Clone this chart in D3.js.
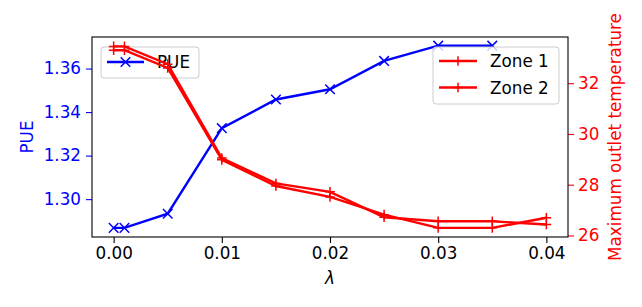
<!DOCTYPE html>
<html>
<head>
<meta charset="utf-8">
<script src="https://cdn.jsdelivr.net/npm/d3@7"></script>
<style>
  body { margin: 0; background: #fff; }
  svg { font-family: "DejaVu Sans", sans-serif; }
</style>
</head>
<body>
<svg id="chart" width="642" height="307"></svg>
<script>
// data
const lambdas = [0, 0.001, 0.005, 0.01, 0.015, 0.02, 0.025, 0.03, 0.035, 0.04];
const pue = [1.2868, 1.2868, 1.2933, 1.3326, 1.3458, 1.3505, 1.3635, 1.3705, 1.3705];
const zone1 = [33.45, 33.45, 32.75, 29.05, 28.05, 27.72, 26.72, 26.56, 26.56, 26.43];
const zone2 = [33.30, 33.30, 32.60, 28.98, 27.95, 27.52, 26.82, 26.30, 26.30, 26.70];
const xTicks = [0, 0.01, 0.02, 0.03, 0.04];
const pueTicks = [1.30, 1.32, 1.34, 1.36];
const tempTicks = [26, 28, 30, 32];

const margin = {top: 37, right: 74, bottom: 70, left: 92};
const width = 642, height = 307;
const svg = d3.select("#chart");

const x = d3.scaleLinear().domain([-0.002, 0.042]).range([margin.left, width - margin.right]);
const yL = d3.scaleLinear().domain([1.2826, 1.3745]).range([height - margin.bottom, margin.top]);
const yR = d3.scaleLinear().domain([25.94, 33.82]).range([height - margin.bottom, margin.top]);

const fs = "16.8px";

// axes
const gx = svg.append("g")
  .attr("transform", `translate(0,${height - margin.bottom})`)
  .call(d3.axisBottom(x).tickValues(xTicks).tickFormat(d3.format(".2f")).tickSize(6).tickPadding(4).tickSizeOuter(0));
gx.select(".domain").remove();
gx.selectAll("line").attr("stroke-width", 1.1);
gx.selectAll("text").attr("font-size", fs).attr("fill", "#000").attr("font-family", "DejaVu Sans");

const gl = svg.append("g")
  .attr("transform", `translate(${margin.left},0)`)
  .call(d3.axisLeft(yL).tickValues(pueTicks).tickFormat(d3.format(".2f")).tickSize(6).tickPadding(5));
gl.select(".domain").remove();
gl.selectAll("line").attr("stroke", "blue").attr("stroke-width", 1.1);
gl.selectAll("text").attr("font-size", fs).attr("fill", "blue").attr("font-family", "DejaVu Sans");

const gr = svg.append("g")
  .attr("transform", `translate(${width - margin.right},0)`)
  .call(d3.axisRight(yR).tickValues(tempTicks).tickSize(6).tickPadding(4));
gr.select(".domain").remove();
gr.selectAll("line").attr("stroke", "red").attr("stroke-width", 1.1);
gr.selectAll("text").attr("font-size", fs).attr("fill", "red").attr("font-family", "DejaVu Sans");

// axis titles
svg.append("text").attr("x", (margin.left + width - margin.right) / 2).attr("y", 284)
  .attr("text-anchor", "middle").attr("font-size", fs).attr("font-style", "italic").text("λ");
svg.append("text").attr("transform", `translate(33,137) rotate(-90)`)
  .attr("text-anchor", "middle").attr("font-size", fs).attr("fill", "blue").text("PUE");
svg.append("text").attr("transform", `translate(621,137) rotate(-90)`)
  .attr("text-anchor", "middle").attr("font-size", fs).attr("fill", "red").text("Maximum outlet temperature");

// marker helpers
const ms = 4.8;
function xMark(g, cx, cy, color) {
  g.append("path").attr("d", `M${cx - ms},${cy - ms}L${cx + ms},${cy + ms}M${cx - ms},${cy + ms}L${cx + ms},${cy - ms}`)
    .attr("stroke", color).attr("stroke-width", 1.5).attr("fill", "none");
}
function plusMark(g, cx, cy, color) {
  g.append("path").attr("d", `M${cx - ms},${cy}L${cx + ms},${cy}M${cx},${cy - ms}L${cx},${cy + ms}`)
    .attr("stroke", color).attr("stroke-width", 1.5).attr("fill", "none");
}
function legendBox(g, x0, y0, w, h) {
  g.append("rect").attr("x", x0).attr("y", y0).attr("width", w).attr("height", h)
    .attr("rx", 3).attr("fill", "white").attr("fill-opacity", 0.8)
    .attr("stroke", "#cccccc").attr("stroke-width", 1);
}

// PUE axis (drawn first)
const ax1 = svg.append("g");
const pueLine = d3.line().x((d, i) => x(lambdas[i])).y(d => yL(d));
ax1.append("path").datum(pue).attr("d", pueLine)
  .attr("fill", "none").attr("stroke", "blue").attr("stroke-width", 2.4);
pue.forEach((d, i) => xMark(ax1, x(lambdas[i]), yL(d), "blue"));

const leg1 = svg.append("g");
legendBox(leg1, 101, 47, 98, 31);
leg1.append("line").attr("x1", 107).attr("x2", 144).attr("y1", 62).attr("y2", 62)
  .attr("stroke", "blue").attr("stroke-width", 2.4);
xMark(leg1, 125.5, 62, "blue");
leg1.append("text").attr("x", 157).attr("y", 68).attr("font-size", fs).text("PUE");

// temperature axis (on top)
const ax2 = svg.append("g");
const tLine = d3.line().x((d, i) => x(lambdas[i])).y(d => yR(d));
[zone1, zone2].forEach(s => {
  ax2.append("path").datum(s).attr("d", tLine)
    .attr("fill", "none").attr("stroke", "red").attr("stroke-width", 2.4);
  s.forEach((d, i) => plusMark(ax2, x(lambdas[i]), yR(d), "red"));
});

const leg2 = svg.append("g");
legendBox(leg2, 433, 47, 126, 57);
[["Zone 1", 61], ["Zone 2", 87.5]].forEach(([name, yy]) => {
  leg2.append("line").attr("x1", 439).attr("x2", 477).attr("y1", yy).attr("y2", yy)
    .attr("stroke", "red").attr("stroke-width", 2.4);
  plusMark(leg2, 458, yy, "red");
  leg2.append("text").attr("x", 490).attr("y", yy + 6).attr("font-size", fs).text(name);
});

// frame
svg.append("rect").attr("x", margin.left).attr("y", margin.top)
  .attr("width", width - margin.right - margin.left).attr("height", height - margin.bottom - margin.top)
  .attr("fill", "none").attr("stroke", "#000").attr("stroke-width", 1.1);
</script>
</body>
</html>
